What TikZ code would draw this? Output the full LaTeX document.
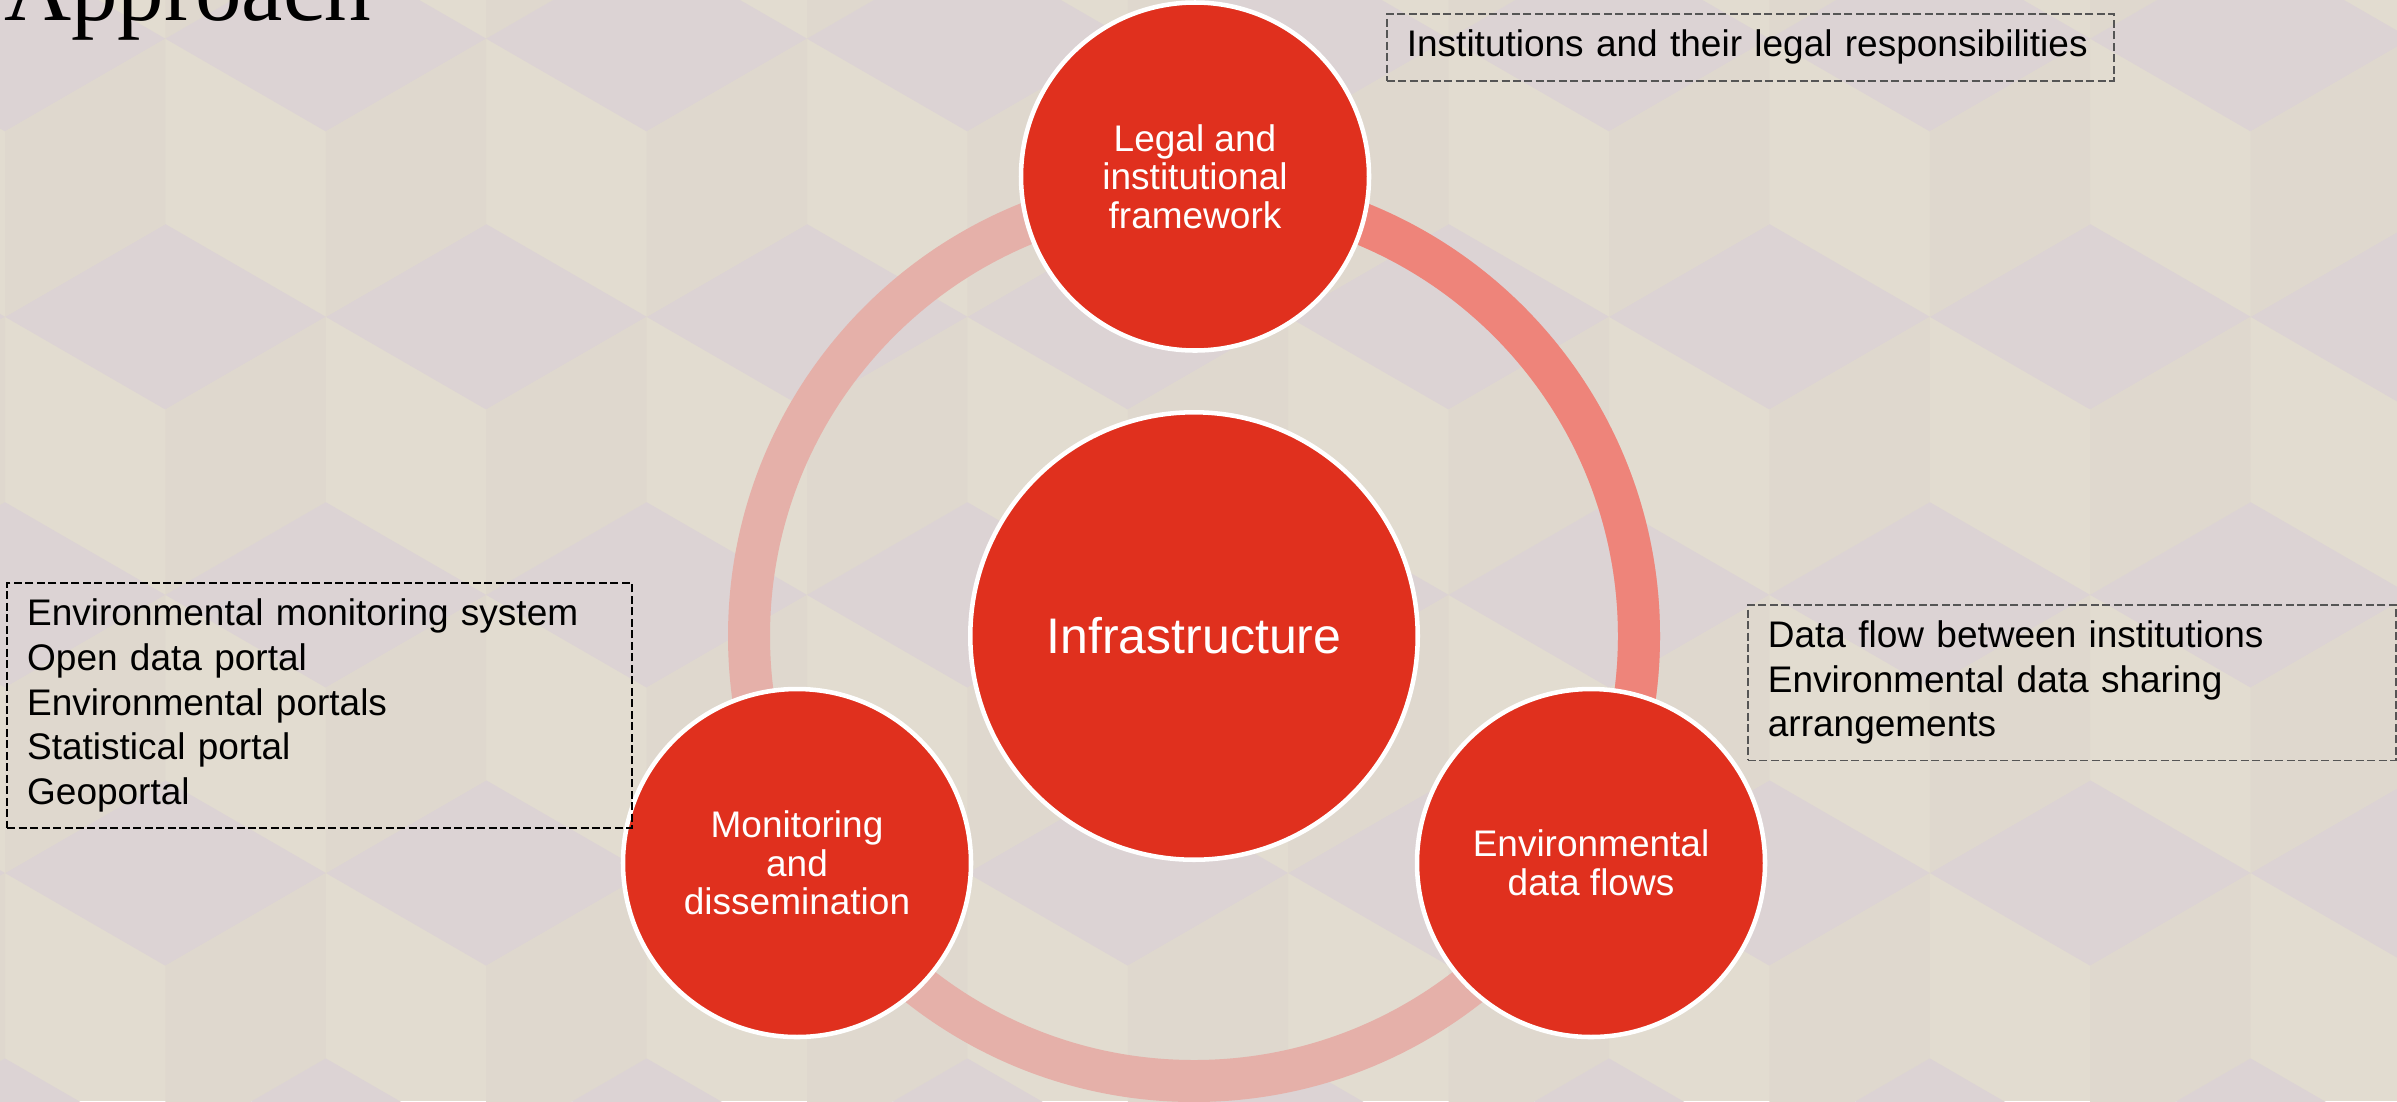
\documentclass[tikz,border=0pt]{standalone}
\usepackage{fontspec}
\setmainfont{Liberation Sans}
\newfontfamily\headfont{Liberation Serif}
\usepackage{tikz}

\definecolor{pwcred}{HTML}{E0301E}
\definecolor{ringpale}{HTML}{E5B0A9}
\definecolor{ringsalmon}{HTML}{EE847A}
\definecolor{cubetop}{HTML}{DCD3D4}
\definecolor{cubeleft}{HTML}{E2DCD0}
\definecolor{cuberight}{HTML}{DFD8CE}
\definecolor{boxgray}{HTML}{555555}

\tikzset{
  stage/.style={circle, fill=pwcred, draw=white, line width=3.4pt, minimum size=261pt, inner sep=0pt, text=white, align=center, font=\fontsize{27.75pt}{28.9pt}\selectfont},
  notebox/.style={draw=boxgray, line width=1.3pt, dash pattern=on 6pt off 2.6pt, anchor=north west, inner xsep=15pt, inner ysep=12pt, align=left, font=\fontsize{27.75pt}{33.4pt}\selectfont},
  ring/.style={line width=31.5pt}
}

\begin{document}
\begin{tikzpicture}[x=0.75pt,y=0.75pt,yscale=-1,xscale=1]
\useasboundingbox (0,0) rectangle (2397,1101);

%Background cubes
\fill[cubeleft] (0,0) rectangle (2397,1101);
\foreach \cx in {-155.4,165.4,486.2,807.0,1127.8,1448.6,1769.4,2090.2,2411.0} {
  \foreach \cy in {-239.4,316.8,873.0} {
    \fill[cubetop] (\cx,\cy) ++(0,-92.7) -- ++(160.4,92.7) -- ++(-160.4,92.7) -- ++(-160.4,-92.7) -- cycle;
    \fill[cuberight] (\cx,\cy) ++(0,92.7) -- ++(160.4,-92.7) -- ++(0,185.4) -- ++(-160.4,92.7) -- cycle;
  }
}
\foreach \cx in {5.0,325.8,646.6,967.4,1288.2,1609.0,1929.8,2250.6} {
  \foreach \cy in {38.7,594.9,1151.1} {
    \fill[cubetop] (\cx,\cy) ++(0,-92.7) -- ++(160.4,92.7) -- ++(-160.4,92.7) -- ++(-160.4,-92.7) -- cycle;
    \fill[cuberight] (\cx,\cy) ++(0,92.7) -- ++(160.4,-92.7) -- ++(0,185.4) -- ++(-160.4,92.7) -- cycle;
  }
}

%Ring
\coordinate (hub) at (1194,636);
\draw[ring, ringpale] (hub) circle [radius=445];
\draw[ring, ringsalmon] (hub) ++(-90:445) arc [start angle=-90, end angle=30, radius=445];

%Shape: Circle
\node (infra) [stage, minimum size=335.6pt, font=\fontsize{37.5pt}{40pt}\selectfont] at (1194,636) {Infrastructure};
%Shape: Circle
\node (legal) [stage] at (1195,176.5) {Legal and\\institutional\\framework};
%Shape: Circle
\node (monitor) [stage] at (797,863) {Monitoring\\and\\dissemination};
%Shape: Circle
\node (flows) [stage] at (1591,863) {Environmental\\data flows};

% Text Node
\node (legalnote) [notebox, text width=515.25pt] at (1386,13.3) {Institutions and their legal responsibilities};
% Text Node
\node (monitornote) [notebox, draw=black, text width=438.5pt] at (6.3,582.3) {Environmental monitoring system\\Open data portal\\Environmental portals\\Statistical portal\\Geoportal};
% Text Node
\node (flowsnote) [notebox, text width=456pt] at (1747,604) {Data flow between institutions\\Environmental data sharing\\arrangements};

% Text Node
\node (title) [anchor=base west, inner sep=0pt, font=\headfont\fontsize{69.75pt}{70pt}\selectfont] at (4,20) {Approach};

\end{tikzpicture}
\end{document}
